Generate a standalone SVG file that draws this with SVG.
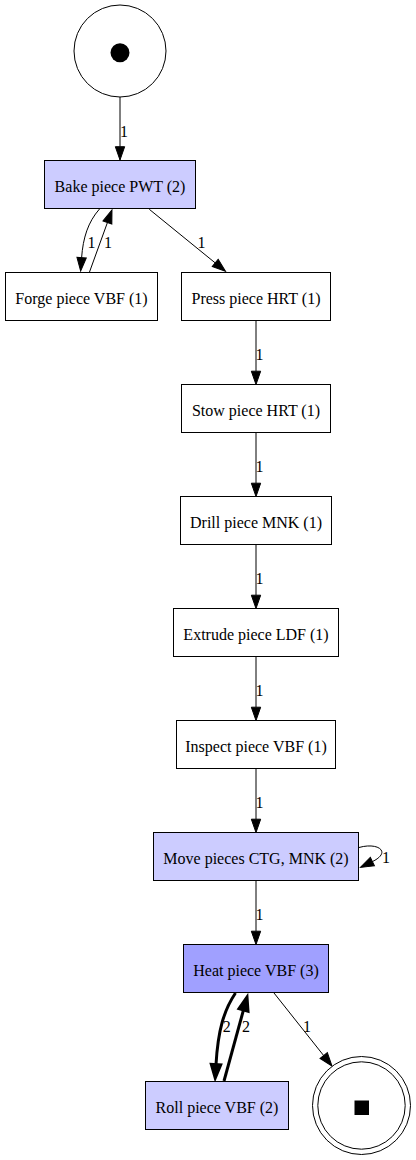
<svg xmlns="http://www.w3.org/2000/svg" width="416" height="1160" viewBox="0 0 416 1160">
<style>
text{font-family:"Liberation Serif","Times New Roman",serif;font-size:16px;fill:#000;text-anchor:middle}
.box{stroke:#000;stroke-width:1}
.w{fill:#fff}
.l{fill:#ccccff}
.d{fill:#a0a0ff}
.e{fill:none;stroke:#000;stroke-width:1}
.t{fill:none;stroke:#000;stroke-width:3}
.thin{marker-end:url(#ah)}
.thick{marker-end:url(#ahT)}
</style>
<defs>
<marker id="ah" markerUnits="userSpaceOnUse" orient="auto" refX="0" refY="0" markerWidth="16" markerHeight="12" overflow="visible">
<path d="M0,-4.67 L13.3,0 L0,4.67 Z" fill="#000" stroke="#000" stroke-width="1"/>
</marker>
<marker id="ahT" markerUnits="userSpaceOnUse" orient="auto" refX="0" refY="0" markerWidth="16" markerHeight="12" overflow="visible">
<path d="M0,-4.67 L13.3,0 L0,4.67 Z" fill="#000" stroke="#000" stroke-width="3"/>
</marker>
</defs>
<rect width="416" height="1160" fill="#fff"/>
<g id="connectors">
<path class="e thin" d="M120,97 L120,146.7"/>
<text x="124" y="137">1</text>
<path class="e thin" d="M99.5,209 C88,222 83,238 81.6,257.7"/>
<text x="91.5" y="248">1</text>
<path class="e thin" d="M89.5,272 L107.44,222.5"/>
<text x="108" y="248">1</text>
<path class="e thin" d="M149.3,209.3 L215.2,262.9"/>
<text x="201.5" y="248">1</text>
<path class="e thin" d="M256,320.5 L256,371.2"/>
<text x="259.5" y="360">1</text>
<path class="e thin" d="M256,432.5 L256,483.2"/>
<text x="259.5" y="472">1</text>
<path class="e thin" d="M256,544.5 L256,595.2"/>
<text x="259.5" y="584">1</text>
<path class="e thin" d="M256,656.5 L256,707.2"/>
<text x="259.5" y="696">1</text>
<path class="e thin" d="M256,768.5 L256,819.2"/>
<text x="259.5" y="808">1</text>
<path class="e thin" d="M359,847.5 C378,842 392,852 372.4,861.6"/>
<text x="386" y="863">1</text>
<path class="e thin" d="M256,880.5 L256,931.2"/>
<text x="259.5" y="920">1</text>
<path class="t thick" d="M235.5,993 C224,1010 218,1030 216,1064.7"/>
<text x="226.7" y="1031.5">2</text>
<path class="t thick" d="M224,1081 L243.5,1009.9"/>
<text x="246" y="1031.5">2</text>
<path class="e thin" d="M274,993 L323.7,1055.6"/>
<text x="307" y="1031.5">1</text>
</g>
<g id="start">
<circle cx="120" cy="51" r="46" fill="#fff" stroke="#000"/>
<circle cx="120" cy="52.8" r="9.5" fill="#000"/>
</g>
<g id="bake"><rect class="box l" x="44.5" y="160.5" width="151" height="48"/><text x="120" y="191.5">Bake piece PWT (2)</text></g>
<g id="forge"><rect class="box w" x="5.5" y="272.5" width="152" height="48"/><text x="81.5" y="303.5">Forge piece VBF (1)</text></g>
<g id="press"><rect class="box w" x="181.5" y="272.5" width="149" height="48"/><text x="256" y="303.5">Press piece HRT (1)</text></g>
<g id="stow"><rect class="box w" x="181.5" y="384.5" width="149" height="48"/><text x="256" y="415.5">Stow piece HRT (1)</text></g>
<g id="drill"><rect class="box w" x="180.5" y="496.5" width="151" height="48"/><text x="256" y="527.5">Drill piece MNK (1)</text></g>
<g id="extrude"><rect class="box w" x="173.5" y="608.5" width="165" height="48"/><text x="256" y="639.5">Extrude piece LDF (1)</text></g>
<g id="inspect"><rect class="box w" x="176.5" y="720.5" width="159" height="48"/><text x="256" y="751.5">Inspect piece VBF (1)</text></g>
<g id="move"><rect class="box l" x="153.5" y="832.5" width="205" height="48"/><text x="256" y="863.5">Move pieces CTG, MNK (2)</text></g>
<g id="heat"><rect class="box d" x="183.5" y="944.5" width="145" height="48"/><text x="256" y="975.5">Heat piece VBF (3)</text></g>
<g id="roll"><rect class="box l" x="145.5" y="1081.5" width="143" height="48"/><text x="217" y="1112.5">Roll piece VBF (2)</text></g>
<g id="end">
<circle cx="361.5" cy="1105.5" r="49" fill="#fff" stroke="#000"/>
<circle cx="361.5" cy="1105.5" r="43.7" fill="none" stroke="#000"/>
<rect x="354.5" y="1100.5" width="14.5" height="14.5" fill="#000"/>
</g>
</svg>
